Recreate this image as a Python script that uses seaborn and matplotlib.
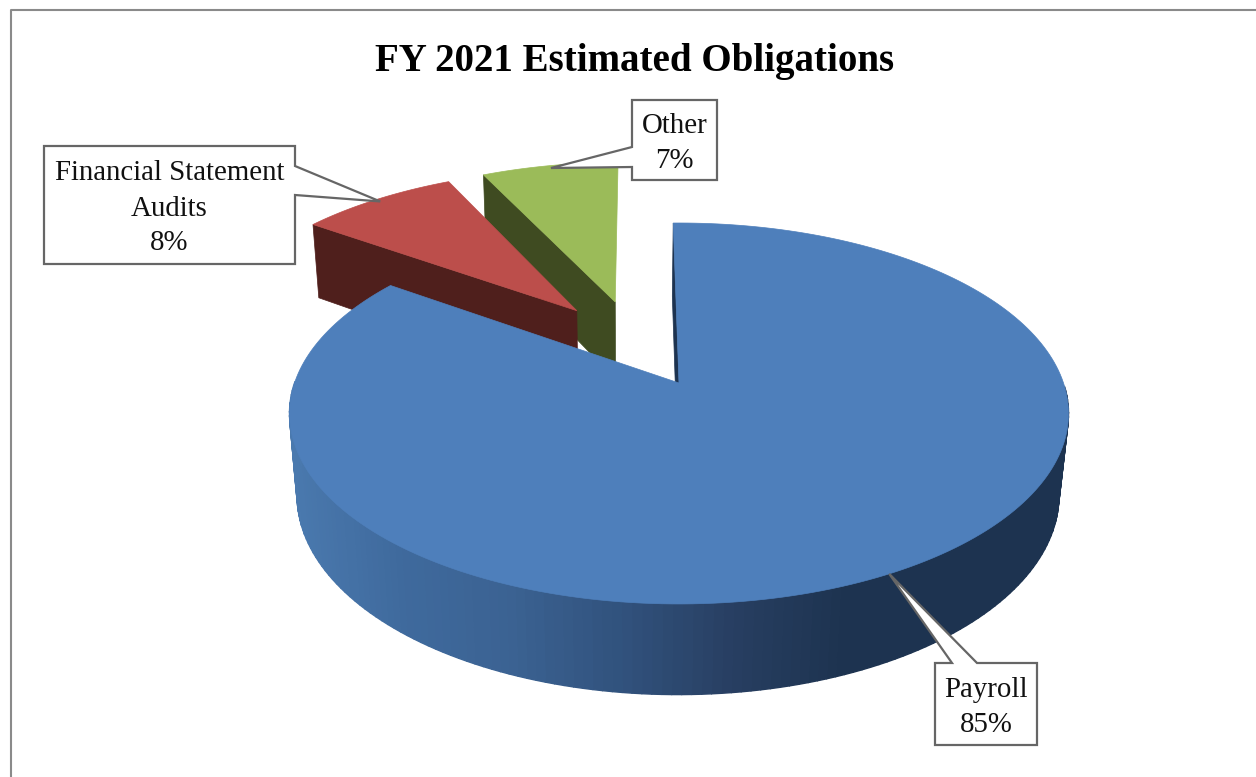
import numpy as np
import seaborn as sns
import matplotlib
matplotlib.use('Agg')
import matplotlib.pyplot as plt
from matplotlib.collections import PolyCollection
from matplotlib.patches import Polygon

# Chart data
title = 'FY 2021 Estimated Obligations'
categories = ['Payroll', 'Financial Statement\nAudits', 'Other']
shares = [85, 8, 7]
top_colors = ['#4e7fbb', '#bc4e4b', '#9bbb59']
cut_colors = ['#1d3350', '#4f1f1c', '#3f4b21']
wall_stops = ['#4a79ae', '#3f6a9d', '#3b6292', '#31527d', '#283f62', '#1d3350', '#1d3350', '#1d3350']

# Pie layout, in pixels of the picture
start_angle = -1
explode = 0.253
anchor_x, anchor_y = 679, 383
scale_x, scale_y = 384.5, 185.6
perspective = 0.16
depth_x, depth_y, depth_w = -1, 83, 0.022
tip_radius = [1.0, 0.98, 0.98]

# Label boxes: left, top, right, bottom and where the pointer leaves the box
boxes = {
    'Payroll': (935, 663, 1037, 745, (977, 663), (952, 663)),
    'Financial Statement\nAudits': (44, 146, 295, 264, (295, 166), (295, 195)),
    'Other': (632, 100, 717, 180, (632, 147), (632, 167)),
}

sns.set_theme(style='white')
plt.rcParams['font.family'] = ['Liberation Serif', 'DejaVu Serif']


def project(x, y, drop=0.0):
    w = 1 + perspective * y + depth_w * drop
    return anchor_x + depth_x * drop + scale_x * x / w, anchor_y - (scale_y * y - depth_y * drop) / w


def rim(center, a0, a1, n=200):
    angles = np.radians(np.linspace(a0, a1, n))
    return center[0] + np.sin(angles), center[1] + np.cos(angles)


fig = plt.figure(figsize=(12.56, 7.77), dpi=100, facecolor='white')
ax = fig.add_axes([0, 0, 1, 1])
ax.set_xlim(0, 1256)
ax.set_ylim(777, 0)
ax.axis('off')

# Outer frame of the chart, it runs off the picture on two sides
ax.plot([11, 11, 1256], [777, 10, 10], color='#8a8a8a', lw=1.5, zorder=1)

# Slice angles from the shares, clockwise from the top
edges = start_angle + np.cumsum([0] + shares) / sum(shares) * 360
mids = (edges[:-1] + edges[1:]) / 2
mid_dirs = np.column_stack([np.sin(np.radians(mids)), np.cos(np.radians(mids))])
centers = explode * (mid_dirs - mid_dirs[0])

# Far slices first so payroll sits in front of them
for i in [2, 1, 0]:
    a0, a1 = edges[i], edges[i + 1]
    cx, cy = centers[i]
    rx, ry = rim((cx, cy), a0, a1, 240)

    # cut face along the starting edge
    face = [project(cx, cy), project(rx[0], ry[0]),
            project(rx[0], ry[0], 1), project(cx, cy, 1)]
    ax.add_patch(Polygon(face, closed=True, fc=cut_colors[i], ec=cut_colors[i], lw=0.5, zorder=2 + 3 * (2 - i)))

    # outer wall with its shading, only the payroll one can be seen
    if i == 0:
        tx, ty = project(rx, ry)
        bx, by = project(rx, ry, 1)
        quads = [[(tx[j], ty[j]), (tx[j + 1], ty[j + 1]), (bx[j + 1], by[j + 1]), (bx[j], by[j])]
                 for j in range(len(tx) - 1)]
        shades = sns.blend_palette(wall_stops, 256)
        pos = np.clip((tx[:-1] - 289) / (1070 - 289), 0, 1)
        colors = [shades[int(p * 255)] for p in pos]
        near = ry[:-1] < cy
        quads = [q for q, keep in zip(quads, near) if keep]
        colors = [c for c, keep in zip(colors, near) if keep]
        ax.add_collection(PolyCollection(quads, facecolors=colors, edgecolors=colors, linewidths=1.0, zorder=3 + 3 * (2 - i)))

    # top face
    tx, ty = project(rx, ry)
    top = np.column_stack([np.r_[project(cx, cy)[0], tx], np.r_[project(cx, cy)[1], ty]])
    ax.add_patch(Polygon(top, closed=True, fc=top_colors[i], ec=top_colors[i], lw=0.5, zorder=4 + 3 * (2 - i)))

# Callouts, each pointer ends on the rim at the middle of its slice
for i, name in enumerate(categories):
    left, up, right, down, p0, p1 = boxes[name]
    tip = project(centers[i][0] + tip_radius[i] * mid_dirs[i][0], centers[i][1] + tip_radius[i] * mid_dirs[i][1])
    if p0[1] == up:
        outline = [(left, up), p1, tip, p0, (right, up), (right, down), (left, down)]
    elif p0[0] == right:
        outline = [(left, up), (right, up), p0, tip, p1, (right, down), (left, down)]
    else:
        outline = [(left, up), (right, up), (right, down), (left, down), p1, tip, p0]
    ax.add_patch(Polygon(outline, closed=True, fc='white', ec='#666666', lw=1.6, joinstyle='miter', zorder=20))
    ax.text((left + right) / 2, (up + down) / 2 + 3.5, f'{name}\n{shares[i]}%', ha='center', va='center',
            fontsize=20.8, color='#111111', linespacing=1.45, zorder=21)

ax.text(635, 71, title, ha='center', va='baseline', fontsize=28.1, fontweight='bold', color='black', zorder=21)

fig.savefig('out.png', dpi=100, facecolor='white')
